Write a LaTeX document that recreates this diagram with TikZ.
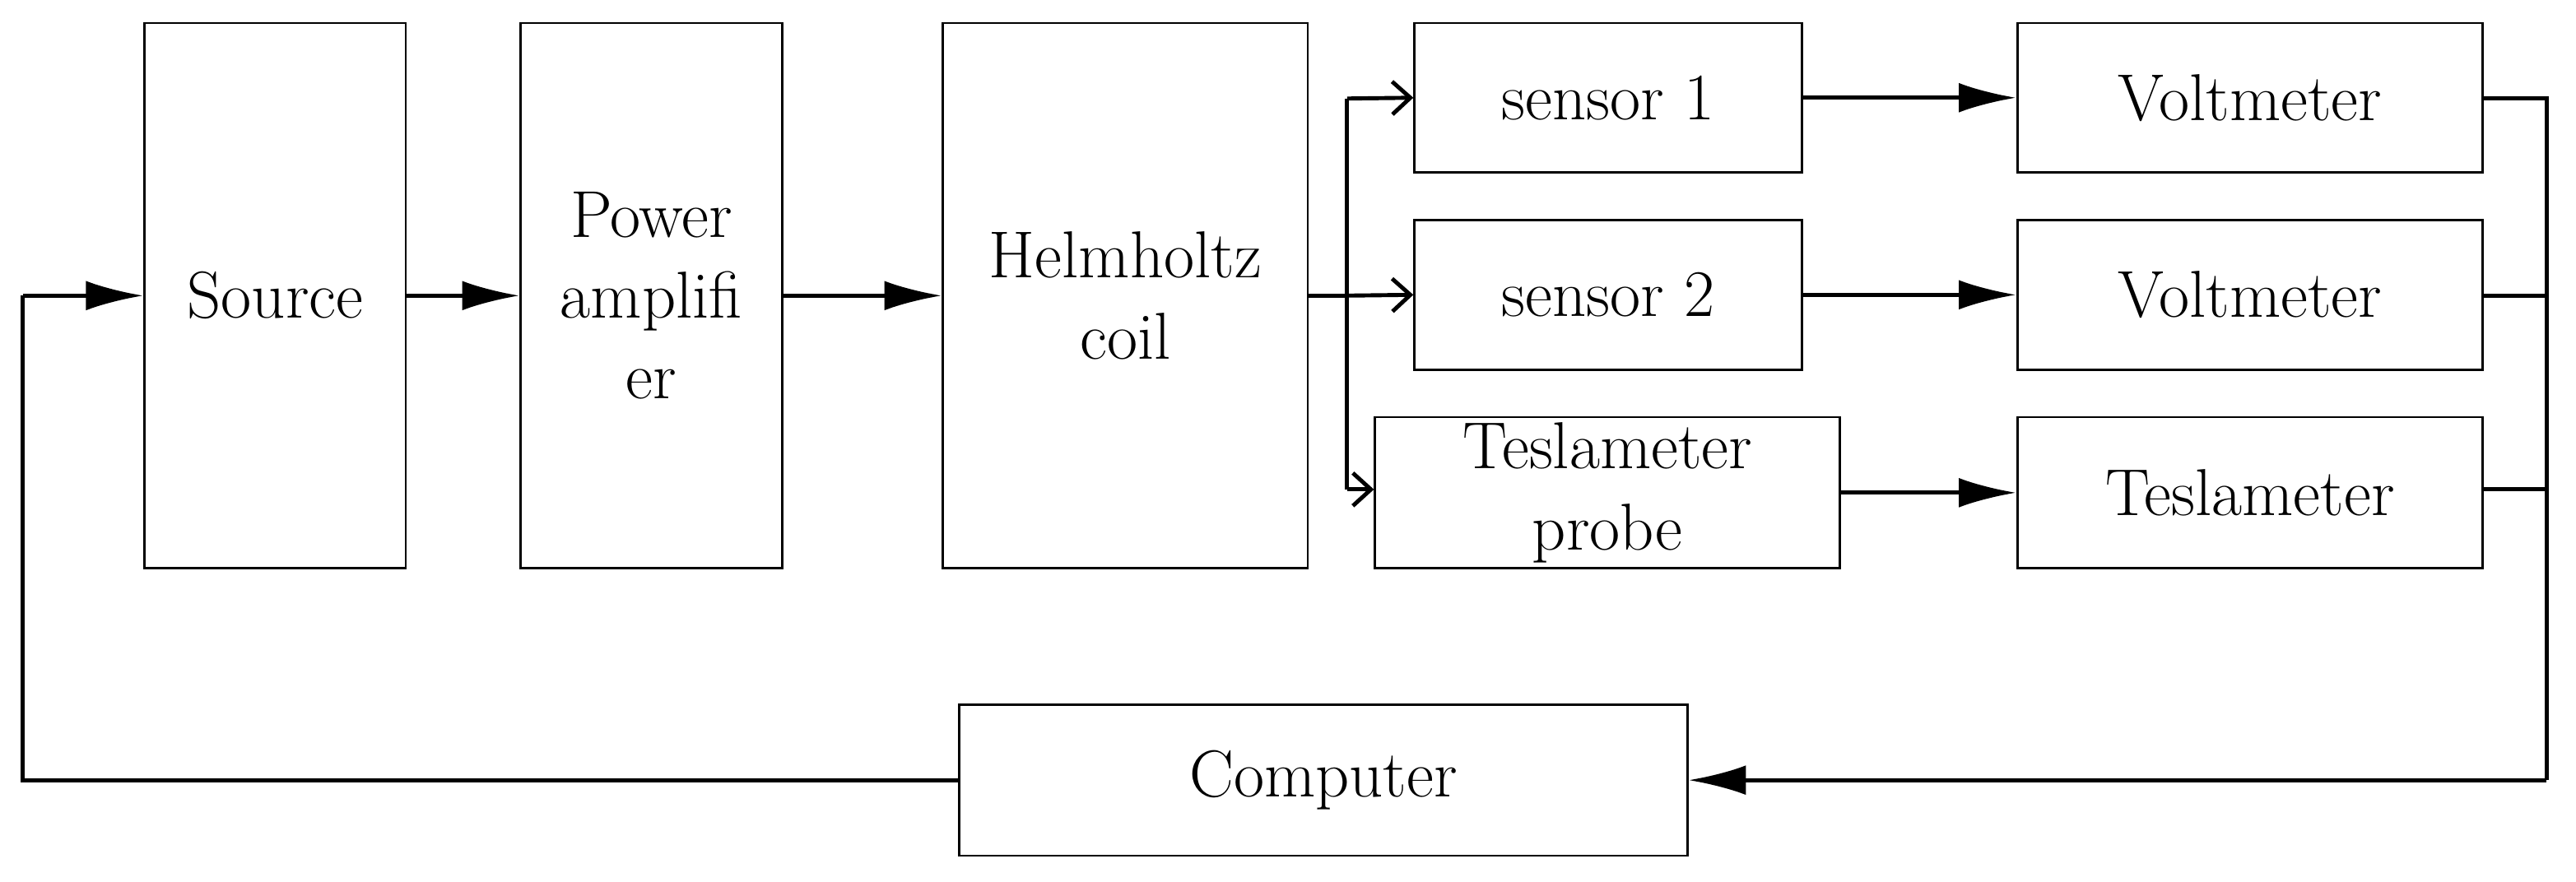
\documentclass[tikz,border=0pt]{standalone}
\usetikzlibrary{arrows.meta}
\begin{document}
\begin{tikzpicture}[x=0.02cm,y=-0.02cm,
  box/.style={draw,thick,inner sep=0pt,align=center,font=\fontsize{23}{28}\selectfont},
  ln/.style={line width=1.4pt},
  big/.style={ln,-{Latex[length=0.7cm,width=0.36cm]}},
  sm/.style={ln,-{Straight Barb[length=0.22cm,width=0.4cm]}}]
\useasboundingbox (0,0) rectangle (1568,537);
\newcommand{\bx}[6]{\node[box,minimum width={(#4-#2)*0.02cm},minimum height={(#5-#3)*0.02cm}] (#1) at ({(#2+#4)/2},{(#3+#5)/2}) {#6};}
\bx{src}{88}{14}{247}{346}{Source}
\bx{amp}{317}{14}{476}{346}{Power\\amplifi\\er}
\bx{hel}{574}{14}{796}{346}{Helmholtz\\coil}
\bx{s1}{861}{14}{1097}{105}{sensor 1}
\bx{s2}{861}{134}{1097}{225}{sensor 2}
\bx{tp}{837}{254}{1120}{346}{Teslameter\\probe}
\bx{v1}{1228}{14}{1511}{105}{Voltmeter}
\bx{v2}{1228}{134}{1511}{225}{Voltmeter}
\bx{tm}{1228}{254}{1511}{346}{Teslameter}
\bx{pc}{584}{429}{1027}{521}{Computer}
\coordinate (b1) at (820,60);
\coordinate (b2) at (820,180);
\coordinate (b3) at (820,298);
\coordinate (r1) at (1550,60);
\coordinate (r2) at (1550,180);
\coordinate (r3) at (1550,475);
\coordinate (r4) at (1550,298);
\coordinate (l1) at (14,475);
\coordinate (l2) at (14,180);
\draw[big] (src) -- (amp);
\draw[big] (amp) -- (hel);
\draw[ln] (hel.east) -- (b2);
\draw[ln] (b1) -- (b3);
\draw[sm] (b1) -- (s1.west);
\draw[sm] (b2) -- (s2.west);
\draw[sm] (b3) -- (tp.west|-b3);
\draw[big] (s1) -- (v1);
\draw[big] (s2) -- (v2);
\draw[big] (tp.east|-tm) -- (tm);
\draw[ln,line join=miter] (v1.east|-r1) -- (r1) -- (r3);
\draw[ln] (v2.east|-r2) -- (r2);
\draw[ln] (tm.east|-r4) -- (r4);
\draw[big] (r3) -- (pc.east|-r3);
\draw[ln] (pc.west|-l1) -- (l1) -- (l2);
\draw[big] (l2) -- (src.west|-l2);
\end{tikzpicture}
\end{document}
